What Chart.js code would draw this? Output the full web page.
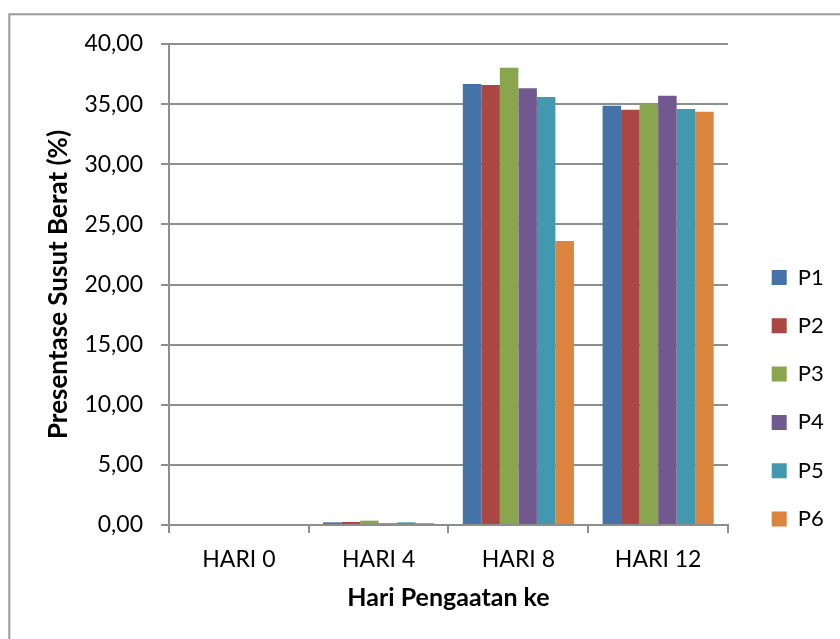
<!DOCTYPE html>
<html>
<head>
<meta charset="utf-8">
<script src="https://cdn.jsdelivr.net/npm/chart.js@4/dist/chart.umd.min.js"></script>
<style>
  html, body { margin: 0; padding: 0; background: #ffffff; }
  #wrap { position: absolute; left: 0; top: 0; width: 840px; height: 639px; }
</style>
</head>
<body>
<div id="wrap"><canvas id="chart" width="840" height="639"></canvas></div>
<script>
// Weight loss (%) per treatment on each observation day
const categories = ['HARI 0', 'HARI 4', 'HARI 8', 'HARI 12'];
const seriesNames = ['P1', 'P2', 'P3', 'P4', 'P5', 'P6'];
const P1 = [0, 0.22, 36.67, 34.87];
const P2 = [0, 0.25, 36.59, 34.54];
const P3 = [0, 0.36, 38.03, 34.98];
const P4 = [0, 0.14, 36.31, 35.70];
const P5 = [0, 0.22, 35.59, 34.60];
const P6 = [0, 0.16, 23.62, 34.37];
const yTicks = [0, 5, 10, 15, 20, 25, 30, 35, 40];

const seriesValues = [P1, P2, P3, P4, P5, P6];
const seriesColors = ['#4572A7', '#AA4643', '#89A54E', '#71588F', '#4198AF', '#DB843D'];

const FONT = "Lato, 'Open Sans', sans-serif";
const GRID = '#8e8e8e';

// white page with the thin outer frame
const framePlugin = {
  id: 'frame',
  beforeDraw(chart) {
    const ctx = chart.ctx;
    ctx.save();
    ctx.fillStyle = '#ffffff';
    ctx.fillRect(0, 0, chart.width, chart.height);
    ctx.strokeStyle = '#9a9a9a';
    ctx.lineWidth = 2;
    ctx.strokeRect(9.3, 14.3, 900, 700);
    ctx.restore();
  }
};

new Chart(document.getElementById('chart'), {
  type: 'bar',
  data: {
    labels: categories,
    datasets: seriesNames.map((name, i) => ({
      label: name,
      data: seriesValues[i],
      backgroundColor: seriesColors[i],
      borderWidth: 0,
      categoryPercentage: 0.795,
      barPercentage: 1.0
    }))
  },
  options: {
    responsive: false,
    animation: false,
    devicePixelRatio: 1,
    layout: { padding: { left: 0, top: 44, right: 6.33, bottom: 0 } },
    plugins: {
      tooltip: { enabled: false },
      legend: {
        position: 'right',
        title: { display: true, text: '', font: { size: 12 }, padding: { top: 99.1, bottom: 0 } },
        labels: {
          boxWidth: 15,
          boxHeight: 15,
          padding: 26.3,
          color: '#000000',
          font: { family: FONT, size: 22 }
        }
      }
    },
    scales: {
      x: {
        type: 'category',
        offset: true,
        afterFit(scale) { scale.height = 114; },
        grid: {
          offset: true,
          drawOnChartArea: false,
          drawTicks: true,
          tickLength: 8,
          color: GRID,
          lineWidth: 2
        },
        border: { display: true, color: GRID, width: 2 },
        ticks: {
          color: '#000000',
          padding: 12.6,
          maxRotation: 0,
          font: { family: FONT, size: 23 }
        },
        title: {
          display: true,
          text: 'Hari Pengaatan ke',
          color: '#000000',
          font: { family: FONT, size: 25, weight: 'bold' },
          padding: { top: 0, bottom: 26 }
        }
      },
      y: {
        min: 0,
        max: 40,
        afterFit(scale) { scale.width = 169; },
        afterBuildTicks(scale) { scale.ticks = yTicks.map(v => ({ value: v })); },
        grid: {
          drawTicks: true,
          tickLength: 8,
          color: GRID,
          lineWidth: 2
        },
        border: { display: true, color: GRID, width: 2 },
        ticks: {
          color: '#000000',
          padding: 18,
          font: { family: FONT, size: 23 },
          callback: (v) => Number(v).toFixed(2).replace('.', ',')
        },
        title: {
          display: true,
          text: 'Presentase Susut Berat (%)',
          color: '#000000',
          font: { family: FONT, size: 26, weight: 'bold' },
          padding: { top: 43.4, bottom: 0 }
        }
      },
      // spacer between plot area and legend
      gap: {
        type: 'linear',
        position: 'right',
        display: true,
        afterFit(scale) { scale.width = 17.4; },
        grid: { display: false, drawTicks: false },
        border: { display: false },
        ticks: { display: false }
      }
    }
  },
  plugins: [framePlugin]
});
</script>
</body>
</html>
